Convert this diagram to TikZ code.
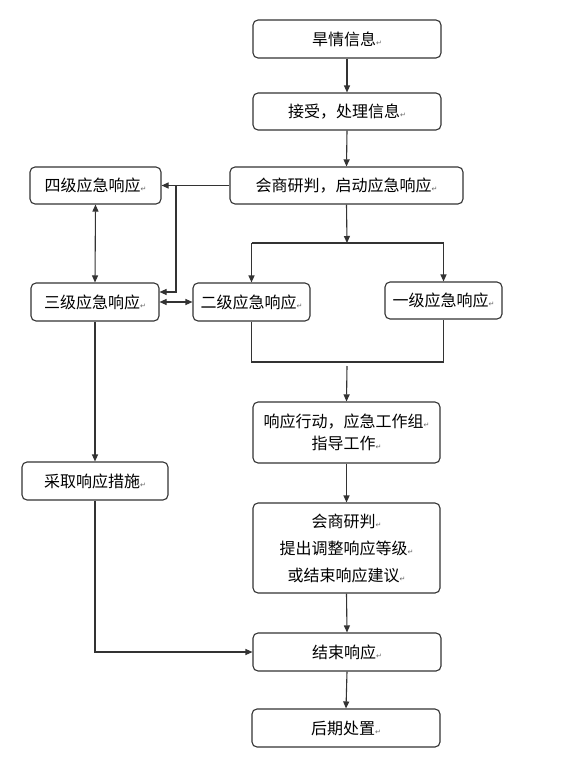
\documentclass[tikz,border=0pt]{standalone}
\usepackage{fontspec}
\setmainfont{Noto Sans CJK SC}
\newfontfamily\dvfont{DejaVu Sans}
\usetikzlibrary{arrows.meta}
\newcommand\pmk{{\dvfont\fontsize{7}{7}\selectfont\color{black!60}↵}}
\begin{document}
\begin{tikzpicture}[x=1pt,y=-1pt,
  box/.style={draw=black!80, line width=1.1pt, rounded corners=5pt, inner sep=0pt,
    font=\fontsize{16}{22}\selectfont, align=center, fill=white},
  line/.style={draw=black!80, line width=1.1pt},
  conn/.style={line, -{Triangle[length=7pt,width=6pt]}},
  conn2/.style={line, {Triangle[length=7pt,width=6pt]}-{Triangle[length=7pt,width=6pt]}},
]
\useasboundingbox (0,0) rectangle (569,768);
\fill[white] (0,0) rectangle (569,768);

\node[box, minimum width=188pt, minimum height=38pt] (hq) at (347,39) {旱情信息\pmk};
\node[box, minimum width=188pt, minimum height=37pt] (js1) at (347,111.5) {接受，处理信息\pmk};
\node[box, minimum width=233pt, minimum height=37pt] (h1) at (346.5,185.5) {会商研判，启动应急响应\pmk};
\node[box, minimum width=131pt, minimum height=37pt] (si) at (95.5,185.5) {四级应急响应\pmk};
\node[box, minimum width=128pt, minimum height=38pt] (san) at (95,302) {三级应急响应\pmk};
\node[box, minimum width=117pt, minimum height=38pt] (er) at (251.5,302) {二级应急响应\pmk};
\node[box, minimum width=117pt, minimum height=37pt] (yi) at (443.5,300.5) {一级应急响应\pmk};
\node[box, minimum width=187pt, minimum height=61pt] (xy) at (346.5,432.5) {响应行动，应急工作组\pmk\\指导工作\pmk};
\node[box, minimum width=187pt, minimum height=90pt, font=\fontsize{16}{27}\selectfont] (h2) at (346.5,548) {会商研判\pmk\\提出调整响应等级\pmk\\或结束响应建议\pmk};
\node[box, minimum width=188pt, minimum height=38pt] (jsy) at (347,652) {结束响应\pmk};
\node[box, minimum width=188pt, minimum height=38pt] (hqcz) at (346,728) {后期处置\pmk};
\node[box, minimum width=146pt, minimum height=38pt] (cq) at (95,481) {采取响应措施\pmk};

\coordinate (j1) at (176,185.5);
\coordinate (bar) at (347,243);
\coordinate (barL) at (251.5,243);
\coordinate (barR) at (443.5,243);
\coordinate (bL) at (251.5,362);
\coordinate (bR) at (443.5,362);
\coordinate (bM) at (347,366);

\draw[conn] (hq.south) -- (js1.north);
\draw[conn] (js1.south) -- (h1.north);
\draw[conn] (h1.west) -- (si.east);
\draw[conn] (j1) |- ([yshift=10pt]san.east);
\draw[conn2] (si.south) -- (san.north);
\draw[conn2] (san.east) -- (er.west);
\draw[conn] (h1.south) -- (bar);
\draw[line] (barL) -- (barR);
\draw[conn] (barL) -- (er.north);
\draw[conn] (barR) -- (yi.north);
\draw[line] (er.south) -- (bL) -- (bR) -- (yi.south);
\draw[conn] (bM) -- (xy.north);
\draw[conn] (xy.south) -- (h2.north);
\draw[conn] (h2.south) -- (jsy.north);
\draw[conn] (jsy.south) -- (hqcz.north);
\draw[conn] (san.south) -- (cq.north);
\draw[conn] (cq.south) |- (jsy.west);
\end{tikzpicture}
\end{document}
